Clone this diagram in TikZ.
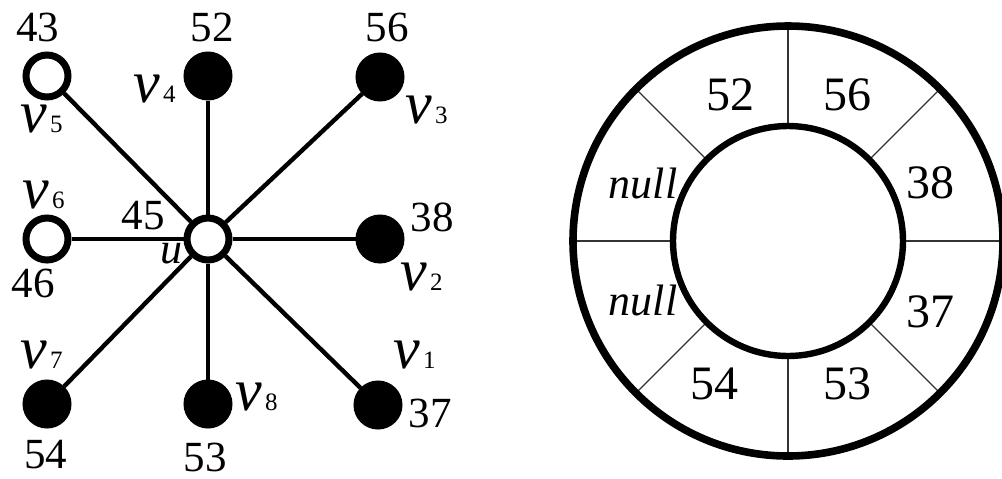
\documentclass[tikz,border=0pt]{standalone}
\usepackage{fontspec}
\setmainfont{Liberation Serif}
\usetikzlibrary{calc}
\newcommand{\vlab}[1]{{\fontsize{30}{30}\selectfont\itshape v}\kern1.5pt{\fontsize{12.5}{12.5}\selectfont #1}}
\tikzset{vertex/.style={circle,draw,line width=3.5pt,minimum size=21pt,inner sep=0pt},
    full vertex/.style={vertex,fill=black},
    empty vertex/.style={vertex,fill=white},
    spoke/.style={draw,line width=2.2pt,-},
    num/.style={font=\fontsize{21.5}{21.5}\selectfont,inner sep=0pt},
    vname/.style={anchor=base west,inner sep=0pt}}

\begin{document}
\begin{tikzpicture}[x=0.5pt,y=-0.5pt,
    ringnum/.style={font=\fontsize{24}{24}\selectfont,inner sep=0pt},
    ringline/.style={draw,line width=3.2pt},
    divider/.style={black!80,line width=0.6pt}]
    \useasboundingbox (0,0) rectangle (1002,478);

    % Star graph around u
    \node[empty vertex] (u) at (208,239) {};
    \node[full vertex] (v1) at (378,405) {};
    \node[full vertex] (v2) at (380,239) {};
    \node[full vertex] (v3) at (380,77) {};
    \node[full vertex] (v4) at (208,76) {};
    \node[empty vertex] (v5) at (47,76) {};
    \node[empty vertex] (v6) at (47,239) {};
    \node[full vertex] (v7) at (47,404) {};
    \node[full vertex] (v8) at (208,404) {};
    \foreach \v in {v1,v2,v3,v4,v5,v6,v7,v8} \draw[spoke] (u) -- (\v);

    % Vertex names
    \node[vname] (n1) at (393,368) {\vlab{1}};
    \node[vname] (n2) at (400,290) {\vlab{2}};
    \node[vname] (n3) at (405,123) {\vlab{3}};
    \node[vname] (n4) at (133,102) {\vlab{4}};
    \node[vname] (n5) at (20,132) {\vlab{5}};
    \node[vname] (n6) at (22,208) {\vlab{6}};
    \node[vname] (n7) at (20,368) {\vlab{7}};
    \node[vname] (n8) at (235,410) {\vlab{8}};
    \node[vname, font=\fontsize{22}{22}\selectfont\itshape] (nu) at (160,263) {u};

    % Vertex values
    \node[num] (w1) at (430,413) {37};
    \node[num] (w2) at (432,217) {38};
    \node[num] (w3) at (387,27) {56};
    \node[num] (w4) at (212,27) {52};
    \node[num] (w5) at (38,27) {43};
    \node[num] (w6) at (33,283) {46};
    \node[num] (w7) at (46,455) {54};
    \node[num] (w8) at (205,457) {53};
    \node[num] (wu) at (143,216) {45};

    % Ring of neighbour values
    \coordinate (c) at (788,241);
    \foreach \a in {0,45,...,315} \draw[divider] ($(c)+(\a:115)$) -- ($(c)+(\a:215)$);
    \draw[ringline, line width=3.8pt] (c) circle[radius=215];
    \draw[ringline] (c) circle[radius=115];
    \foreach \p/\t [count=\i] in {(730,95)/52, (847,95)/56, (930,183)/38, (930,312)/37,
        (847,384)/53, (714,384)/54} \node[ringnum] (s\i) at \p {\t};
    \node[font=\fontsize{22}{22}\selectfont\itshape, inner sep=0pt] (s7) at (643,183) {null};
    \node[font=\fontsize{22}{22}\selectfont\itshape, inner sep=0pt] (s8) at (643,300) {null};
\end{tikzpicture}
\end{document}
